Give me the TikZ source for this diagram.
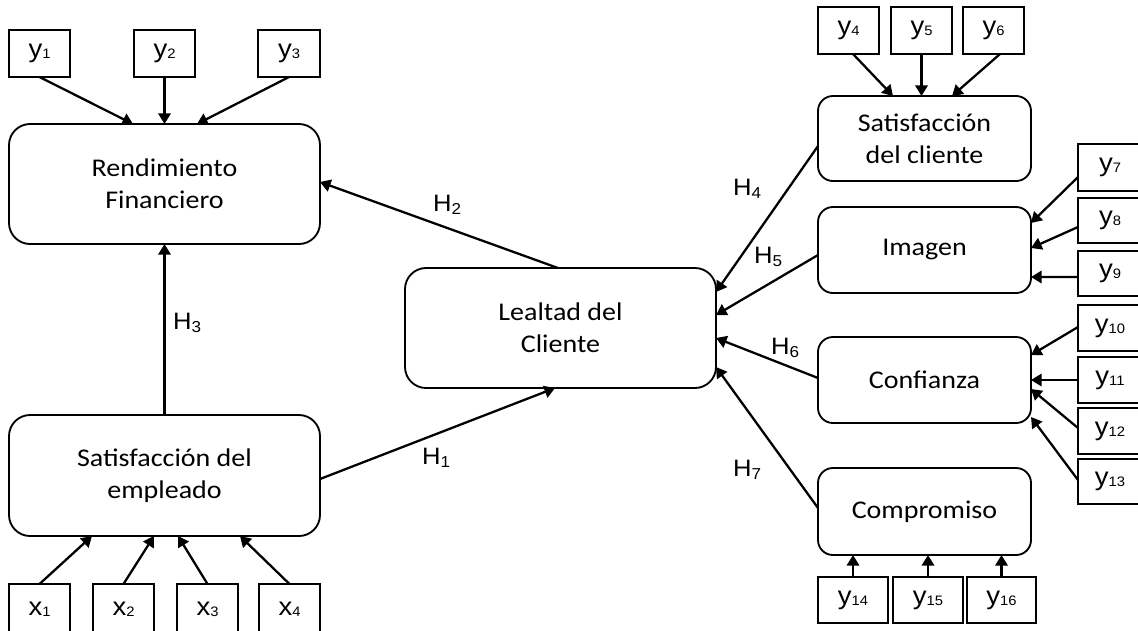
\documentclass[tikz,border=0pt]{standalone}
\usepackage{fontspec}
\setmainfont{Carlito}[FakeStretch=1.1]
\newfontfamily\labfont{Liberation Sans}[FakeStretch=1.08]
\usetikzlibrary{arrows.meta,calc}
\newcommand\ysub[2]{{\labfont\fontsize{14.5}{16}\selectfont #1\raisebox{-0.6pt}{\fontsize{7.8}{8}\selectfont #2}}}
\newcommand\hlab[1]{{\labfont\fontsize{13.5}{15}\selectfont H\raisebox{-2pt}{\fontsize{9}{10}\selectfont #1}}}
\begin{document}
\begin{tikzpicture}[x=0.02cm,y=-0.02cm,
  sz/.style 2 args={minimum width=#1*0.02cm,minimum height=#2*0.02cm},
  ind/.style={draw,line width=1.05pt,inner sep=0pt,outer sep=0pt},
  lat/.style={draw,line width=1.05pt,rounded corners=12pt,inner sep=0pt,outer sep=0pt,align=center,font=\fontsize{14.5}{18.2}\selectfont},
  latb/.style={lat,rounded corners=8.5pt},
  arr/.style={line width=1.3pt,-{Triangle[length=6pt,width=7pt]}},
  hl/.style={inner sep=0pt}]
\useasboundingbox (0,0) rectangle (1138,630);
% left column
\node[ind,sz={61}{47}] (y1) at (39.5,53.5) {\ysub{y}{1}};
\node[ind,sz={61}{47}] (y2) at (164.5,53.5) {\ysub{y}{2}};
\node[ind,sz={62}{47}] (y3) at (289,53.5) {\ysub{y}{3}};
\node[lat,sz={311}{120}] (rf) at (164.5,184) {Rendimiento\\Financiero};
\node[lat,sz={311}{121}] (se) at (164.5,475.5) {Satisfacción del\\empleado};
\node[ind,sz={61}{50}] (x1) at (39.5,609) {\ysub{x}{1}};
\node[ind,sz={61}{50}] (x2) at (123.5,609) {\ysub{x}{2}};
\node[ind,sz={61}{50}] (x3) at (207.5,609) {\ysub{x}{3}};
\node[ind,sz={61}{50}] (x4) at (289.5,609) {\ysub{x}{4}};
% centre
\node[lat,sz={311}{120}] (lc) at (560.5,328) {Lealtad del\\Cliente};
% right column
\node[latb,sz={213}{85}] (sc) at (924.5,138.5) {Satisfacción\\del cliente};
\node[ind,sz={61}{47}] (y4) at (848.5,30.5) {\ysub{y}{4}};
\node[ind,sz={61}{47}] (y5) at (921.5,30.5) {\ysub{y}{5}};
\node[ind,sz={61}{47}] (y6) at (993.5,30.5) {\ysub{y}{6}};
\node[latb,sz={213}{86}] (im) at (924.5,250) {Imagen};
\node[latb,sz={213}{86}] (cf) at (924.5,380) {Confianza};
\node[latb,sz={213}{87}] (cp) at (924.5,511.5) {Compromiso};
\node[ind,sz={64}{47}] (y7) at (1110,167.5) {\ysub{y}{7}};
\node[ind,sz={64}{45}] (y8) at (1110,220.5) {\ysub{y}{8}};
\node[ind,sz={64}{45}] (y9) at (1110,273.5) {\ysub{y}{9}};
\node[ind,sz={64}{46}] (y10) at (1110,328) {\ysub{y}{10}};
\node[ind,sz={64}{46}] (y11) at (1110,380) {\ysub{y}{11}};
\node[ind,sz={64}{46}] (y12) at (1110,431) {\ysub{y}{12}};
\node[ind,sz={64}{45}] (y13) at (1110,481.5) {\ysub{y}{13}};
\node[ind,sz={70}{46}] (y14) at (853,600) {\ysub{y}{14}};
\node[ind,sz={70}{46}] (y15) at (928,600) {\ysub{y}{15}};
\node[ind,sz={69}{46}] (y16) at (1001.5,600) {\ysub{y}{16}};
% indicator arrows
\draw[arr] (y1.south) -- ($(rf.north)+(-31.5,0)$);
\draw[arr] (y2.south) -- (rf.north);
\draw[arr] (y3.south) -- ($(rf.north)+(32.5,0)$);
\draw[arr] (x1.north) -- ($(se.south)+(-72.5,0)$);
\draw[arr] (x2.north) -- ($(se.south)+(-10.5,0)$);
\draw[arr] (x3.north) -- ($(se.south)+(13.5,0)$);
\draw[arr] (x4.north) -- ($(se.south)+(75.5,0)$);
\draw[arr] ($(y4.south)+(4.5,0)$) -- ($(sc.north)+(-31.5,0)$);
\draw[arr] (y5.south) -- (y5.south |- sc.north);
\draw[arr] ($(y6.south)+(6.5,0)$) -- ($(sc.north)+(27.5,0)$);
\draw[arr] ($(y7.west)+(0,9.5)$) -- ($(im.east)+(0,-27)$);
\draw[arr] ($(y8.west)+(0,6.5)$) -- ($(im.east)+(0,-2)$);
\draw[arr] ($(y9.west)+(0,3.5)$) -- ($(im.east)+(0,27)$);
\draw[arr] ($(y10.west)+(0,-1)$) -- ($(cf.east)+(0,-25)$);
\draw[arr] (y11.west) -- (cf.east);
\draw[arr] ($(y12.west)+(0,-3)$) -- ($(cf.east)+(0,9)$);
\draw[arr] ($(y13.west)+(0,-1.5)$) -- ($(cf.east)+(0,37)$);
\draw[arr] (y14.north) -- (y14.north |- cp.south);
\draw[arr] (y15.north) -- (y15.north |- cp.south);
\draw[arr] (y16.north) -- (y16.north |- cp.south);
% hypotheses
\draw[arr] (se.north) -- (rf.south);
\draw[arr] ($(lc.north)+(-2.5,0)$) -- ($(rf.east)+(0,-2)$);
\draw[arr] ($(se.east)+(0,3.5)$) -- ($(lc.south)+(-5.5,0)$);
\draw[arr] ($(sc.west)+(0,7.5)$) -- ($(lc.east)+(0,-36)$);
\draw[arr] ($(im.west)+(0,5)$) -- ($(lc.east)+(0,-13)$);
\draw[arr] ($(cf.west)+(0,-2)$) -- ($(lc.east)+(0,10)$);
\draw[arr] ($(cp.west)+(0,-3.5)$) -- ($(lc.east)+(0,39)$);
\node[hl] (h1) at (436,458) {\hlab{1}};
\node[hl] (h2) at (447,205) {\hlab{2}};
\node[hl] (h3) at (187,323) {\hlab{3}};
\node[hl] (h4) at (747,189) {\hlab{4}};
\node[hl] (h5) at (768,257) {\hlab{5}};
\node[hl] (h6) at (785,348) {\hlab{6}};
\node[hl] (h7) at (747,470) {\hlab{7}};
\end{tikzpicture}
\end{document}
